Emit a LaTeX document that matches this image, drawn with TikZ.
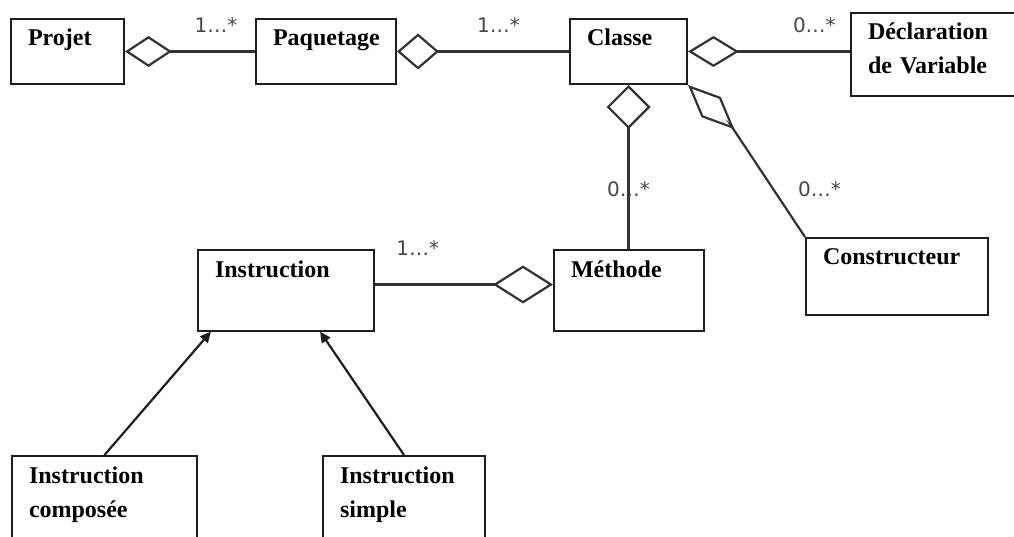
\documentclass[tikz,border=0pt]{standalone}
\usepackage{fontspec}
\setmainfont{Liberation Serif}
\newfontfamily\multfont{DejaVu Sans}
\usetikzlibrary{positioning, arrows.meta}

\definecolor{boxline}{RGB}{30,30,30}
\definecolor{linkline}{RGB}{50,50,50}
\definecolor{multtext}{RGB}{70,70,70}

\begin{document}
\begin{tikzpicture}[x=1pt, y=-1pt,
    classbox/.style 2 args={rectangle, draw=boxline, line width=2pt, anchor=north west,
                   text width=#1, text height=17pt, text depth=#2, inner xsep=17pt, inner ysep=10pt,
                   align=left, font=\fontsize{24}{34}\selectfont\bfseries},
    agg/.style 2 args={{Diamond[open, length=#1, width=#2]}-, line width=2.2pt, draw=linkline},
    gen/.style={-{Triangle[length=11pt, width=10pt]}, line width=2.2pt, draw=boxline},
    mult/.style={font=\multfont\fontsize{20}{24}\selectfont, text=multtext, inner sep=0pt}
]
\useasboundingbox (0,0) rectangle (1014,537);
\clip (0,0) rectangle (1014,537);

% Classes
\node[classbox={79pt}{28pt}] (projet) at (10,18) {Projet};
\node[classbox={106pt}{28pt}, right=130pt of projet] (paquetage) {Paquetage};
\node[classbox={83pt}{28pt}, right=172pt of paquetage] (classe) {Classe};
\node[classbox={146pt}{46pt}] (decl) at (850,12) {Déclaration\\de Variable};
\node[classbox={116pt}{44pt}] (methode) at (553,249) {Méthode};
\node[classbox={148pt}{40pt}] (constructeur) at (805,237) {Constructeur};
\node[classbox={142pt}{43pt}, left=178pt of methode] (instruction) {Instruction};
\node[classbox={151pt}{73pt}] (composee) at (11,455) {Instruction\\composée};
\node[classbox={128pt}{73pt}, right=124pt of composee] (simple) {Instruction\\simple};

% Aggregations
\draw[agg={47pt}{31pt}] (projet.east) -- (paquetage.west)
    node[mult, pos=0.7, above=18pt] {1…*};
\draw[agg={42pt}{36pt}] (paquetage.east) -- (classe.west)
    node[mult, pos=0.59, above=18pt] {1…*};
\draw[agg={51pt}{31pt}] (classe.east) -- (classe.east -| decl.west)
    node[mult, pos=0.78, above=18pt] {0…*};
\draw[agg={44pt}{44pt}] (classe.south) -- (classe.south |- methode.north)
    node[mult, pos=0.69, anchor=south] {0…*};
\coordinate (kink) at (732,127);
\draw[agg={64pt}{28pt}] (classe.south east) -- (kink) -- (constructeur.north west)
    node[mult, pos=0.645, anchor=south west, xshift=18pt] {0…*};
\draw[agg={60pt}{38pt}] ([yshift=6pt]methode.west) -- ([yshift=6pt]instruction.east)
    node[mult, pos=0.76, above=28pt] {1…*};

% Generalizations
\draw[gen] (composee.north) -- ([xshift=14pt]instruction.south west);
\draw[gen] (simple.north) -- ([xshift=123pt]instruction.south west);

\end{tikzpicture}
\end{document}
